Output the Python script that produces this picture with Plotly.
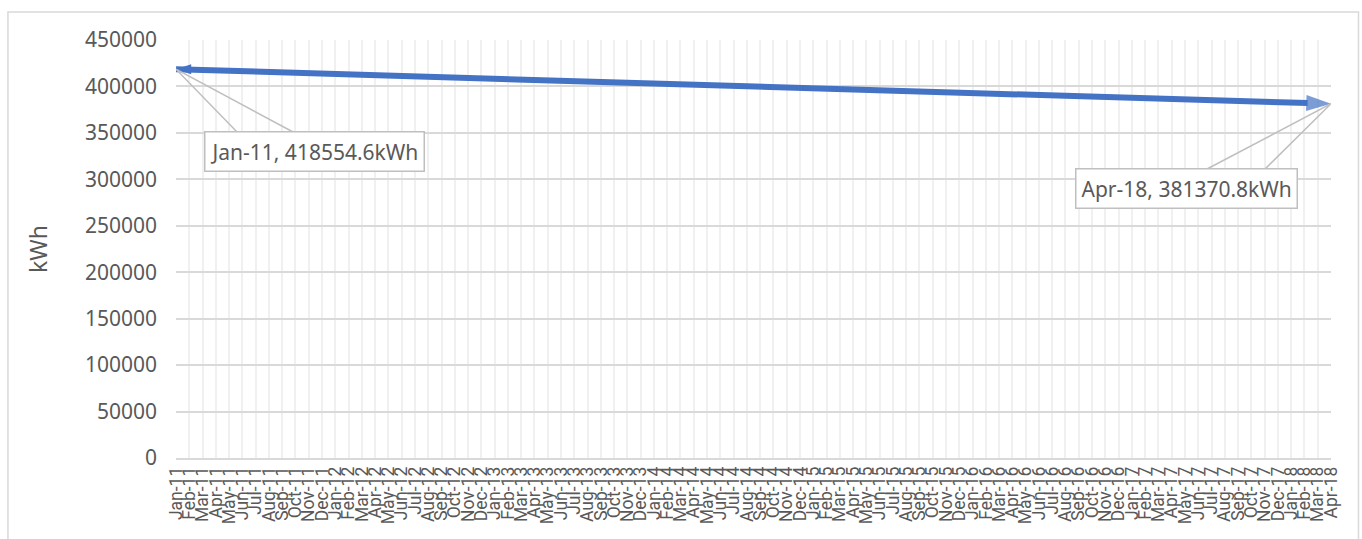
import pandas as pd
import plotly.graph_objects as go

# Monthly consumption, Jan-2011 .. Apr-2018
months = pd.date_range("2011-01-01", "2018-04-01", freq="MS").strftime("%b-%y").tolist()
energy_kwh = [
    418554.6, 418120.3, 417702.8, 417281.5, 416840.9, 416412.2, 415987.6, 415571.4,
    415139.8, 414706.3, 414285.1, 413862.7, 413431.9, 413005.4, 412578.2, 412153.6,
    411720.5, 411298.3, 410871.8, 410449.2, 410017.6, 409594.1, 409168.7, 408741.3,
    408318.9, 407890.4, 407462.8, 407039.5, 406611.2, 406186.7, 405760.3, 405335.8,
    404906.4, 404481.2, 404057.6, 403629.9, 403203.5, 402777.1, 402351.8, 401924.3,
    401498.6, 401072.2, 400645.9, 400219.4, 399792.8, 399367.5, 398940.1, 398514.6,
    398088.3, 397661.7, 397235.2, 396809.8, 396383.4, 395956.9, 395530.6, 395104.1,
    394677.8, 394251.3, 393825.9, 393399.4, 392972.8, 392546.5, 392120.1, 391693.7,
    391267.2, 390840.9, 390414.5, 389988.2, 389561.6, 389135.3, 388708.9, 388282.4,
    387856.1, 387429.7, 387003.2, 386576.9, 386150.5, 385724.1, 385297.8, 384871.4,
    384445.0, 384018.6, 383592.3, 383165.9, 382739.5, 382313.2, 381842.6, 381370.8,
]
y_ticks = list(range(0, 450001, 50000))

idx = list(range(len(months)))
BLUE = "#4472C4"
TEXT = "#595959"
GRID_H = "#d9d9d9"
GRID_V = "#f0f0f0"
FONT = "Noto Sans"

fig = go.Figure()

# main line with an arrowhead at the last month
fig.add_trace(go.Scatter(
    x=idx, y=energy_kwh, mode="lines+markers",
    line=dict(color=BLUE, width=6),
    marker=dict(
        symbol=["circle"] * (len(idx) - 1) + ["arrow"],
        size=[0] * (len(idx) - 1) + [26],
        angleref="previous", color=BLUE, line=dict(width=0),
    ),
    cliponaxis=False, hoverinfo="skip", showlegend=False,
))
# start cap at the first month
fig.add_trace(go.Scatter(
    x=[idx[0]], y=[energy_kwh[0]], mode="markers",
    marker=dict(symbol="arrow", angle=270, size=16, color=BLUE, line=dict(width=0)),
    cliponaxis=False, hoverinfo="skip", showlegend=False,
))

# callout labels for the first and last month (box centre, box top, pointer base)
callouts = [
    dict(i=0, text=f"{months[0]}, {energy_kwh[0]}kWh",
         bx=10.43, by=329970, top=349880, w0=4.67, w1=8.96),
    dict(i=len(idx) - 1, text=f"{months[-1]}, {energy_kwh[-1]}kWh",
         bx=76.15, by=290670, top=311120, w0=77.66, w1=82.03),
]
for c in callouts:
    px, py = idx[c["i"]], energy_kwh[c["i"]]
    fig.add_shape(
        type="path", xref="x", yref="y",
        path=f"M {c['w0']},{c['top']} L {px},{py} L {c['w1']},{c['top']}",
        line=dict(color="#bfbfbf", width=1.5), layer="above",
    )
    fig.add_annotation(
        x=c["bx"], y=c["by"], xref="x", yref="y", text=c["text"], showarrow=False,
        font=dict(family=FONT, size=21, color=TEXT),
        bgcolor="white", bordercolor="#bfbfbf", borderwidth=1.5, borderpad=5,
    )

# outer chart frame
fig.add_shape(
    type="rect", xref="paper", yref="paper",
    x0=-0.1455, x1=1.0238, y0=-0.4, y1=1.067,
    line=dict(color=GRID_H, width=1.5), fillcolor="rgba(0,0,0,0)", layer="below",
)

fig.update_layout(
    width=1362, height=539,
    margin=dict(l=176, r=31, t=40, b=81),
    paper_bgcolor="white", plot_bgcolor="white",
    font=dict(family=FONT, color=TEXT),
    xaxis=dict(
        range=[0, len(idx) - 1], tickmode="array", tickvals=idx, ticktext=months,
        tickangle=-90, tickfont=dict(family="Roboto", size=17.5, color=TEXT), ticks="",
        showgrid=True, gridcolor=GRID_V, gridwidth=2, automargin=False,
        showline=True, linecolor=GRID_H, linewidth=1.5, mirror=False,
        zeroline=False, fixedrange=True,
    ),
    yaxis=dict(
        range=[0, 450000], tickmode="array", tickvals=y_ticks,
        ticktext=[str(v) for v in y_ticks],
        tickfont=dict(size=21, color=TEXT), ticks="", ticklabelstandoff=18,
        showgrid=True, gridcolor=GRID_H, gridwidth=1.5, zeroline=False,
        title=dict(text="kWh", font=dict(size=23, color=TEXT), standoff=30),
        fixedrange=True, automargin=False,
    ),
)

fig.write_html("out.html")
